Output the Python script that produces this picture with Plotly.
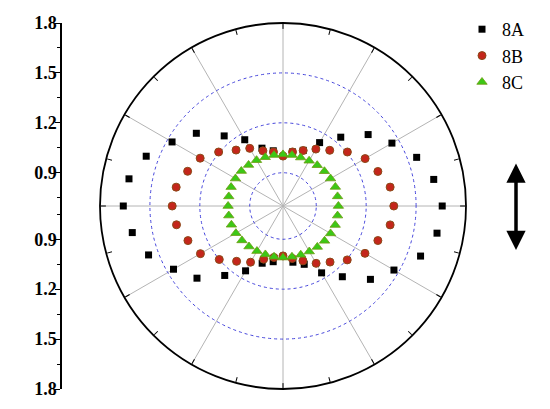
import plotly.graph_objects as go

# angles in degrees, 10 deg steps
angles = list(range(0, 360, 10))
angles_8a = [a for a in angles if a not in (90, 270)]

# 8A (black squares), r values
r_8a = [1.657, 1.62, 1.555, 1.456, 1.368, 1.24, 1.14, 1.056, 1.03,
        1.037, 1.07, 1.16, 1.25, 1.38, 1.47, 1.575, 1.64,
        1.66, 1.62, 1.56, 1.46, 1.375, 1.245, 1.15, 1.066, 1.04,
        1.043, 1.073, 1.164, 1.255, 1.386, 1.47, 1.58, 1.64]

# 8B (red circles)
r_8b = [1.366, 1.354, 1.307, 1.27, 1.205, 1.137, 1.095, 1.055, 1.03,
        1.0, 1.03, 1.053, 1.10, 1.139, 1.205, 1.275, 1.31, 1.352,
        1.366, 1.35, 1.308, 1.273, 1.20, 1.134, 1.09, 1.04, 1.014,
        1.0, 1.02, 1.051, 1.098, 1.14, 1.204, 1.269, 1.307, 1.354]

# 8C (green triangles)
r_8c = [1.033, 1.033, 1.035, 1.03, 1.025, 1.02, 1.014, 1.01, 1.011,
        1.01, 1.011, 1.012, 1.018, 1.022, 1.027, 1.03, 1.032, 1.031,
        1.03, 1.031, 1.03, 1.027, 1.022, 1.018, 1.013, 1.01, 1.01,
        1.01, 1.01, 1.012, 1.016, 1.021, 1.026, 1.03, 1.034, 1.033]

# left scale: value -> offset from the 0.7 centre, mirrored
scale_labels = ["1.8", "1.5", "1.2", "0.9", "0.9", "1.2", "1.5", "1.8"]
scale_vals = [1.8, 1.5, 1.2, 0.9, 0.9, 1.2, 1.5, 1.8]
r_min, r_max = 0.7, 1.8
W, H = 550, 409
OFF = 8  # page body margin, everything is placed 8px up/left to compensate
top, bottom = 23 - OFF, 20 + OFF
plot_h = H - top - bottom

serif = "Liberation Serif, Times New Roman, serif"

fig = go.Figure()

fig.add_trace(go.Scatterpolar(
    r=r_8a, theta=angles_8a, mode="markers", name="8A",
    marker=dict(symbol="square", size=7, color="black"),
    subplot="polar"))
fig.add_trace(go.Scatterpolar(
    r=r_8b, theta=angles, mode="markers", name="8B",
    marker=dict(symbol="circle", size=8, color="#c4261b",
                line=dict(color="#8a4a18", width=1)),
    subplot="polar"))
fig.add_trace(go.Scatterpolar(
    r=r_8c, theta=angles, mode="markers", name="8C",
    marker=dict(symbol="triangle-up", size=9, color="#3cc816",
                line=dict(color="#6e9a12", width=0.8)),
    subplot="polar"))

# empty trace so the overlay polar (outer circle + 15 deg ticks) is drawn
fig.add_trace(go.Scatterpolar(r=[None], theta=[None], subplot="polar2",
                              showlegend=False, hoverinfo="skip"))

# empty trace for the left cartesian scale
fig.add_trace(go.Scatter(x=[None], y=[None], showlegend=False,
                         hoverinfo="skip", xaxis="x", yaxis="y"))

dom_x = [(100 - OFF) / W, (466 - OFF) / W]

fig.update_layout(
    width=W, height=H,
    margin=dict(l=0, r=0, t=top, b=bottom, autoexpand=False),
    paper_bgcolor="white", plot_bgcolor="rgba(0,0,0,0)",
    font=dict(family=serif, size=16, color="black"),
    polar=dict(
        domain=dict(x=dom_x, y=[0, 1]),
        bgcolor="rgba(0,0,0,0)",
        radialaxis=dict(range=[r_min, r_max], tickvals=[0.9, 1.2, 1.5],
                        showticklabels=False, ticks="", showline=False,
                        gridcolor="#4646dc", griddash="dot", gridwidth=1),
        angularaxis=dict(dtick=30, showticklabels=False, ticks="",
                         showline=False, gridcolor="#b4b4b4", gridwidth=1,
                         direction="counterclockwise", rotation=0),
    ),
    polar2=dict(
        domain=dict(x=dom_x, y=[0, 1]),
        bgcolor="rgba(0,0,0,0)",
        radialaxis=dict(range=[r_min, r_max], visible=False),
        angularaxis=dict(dtick=15, showticklabels=False, ticks="inside",
                         ticklen=5, tickwidth=1.2, tickcolor="black",
                         showgrid=False, showline=True, linecolor="black",
                         linewidth=1.8, direction="counterclockwise",
                         rotation=0),
    ),
    xaxis=dict(domain=[(62 - OFF) / W, (70 - OFF) / W], visible=False,
               range=[0, 1]),
    yaxis=dict(
        range=[-(r_max - r_min), r_max - r_min],
        tickvals=[(v - r_min) * (1 if i < 4 else -1)
                  for i, v in enumerate(scale_vals)],
        ticktext=scale_labels,
        tickfont=dict(family=serif, size=18, color="black", weight="bold"),
        ticks="outside", ticklen=5, tickwidth=1.2, tickcolor="black",
        ticklabelstandoff=-5,
        showline=True, linecolor="black", linewidth=1.5,
        showgrid=False, zeroline=False,
        minor=dict(tickvals=[0.95, 0.65, 0.35, 0.05,
                             -0.05, -0.35, -0.65, -0.95],
                   ticks="outside", ticklen=3, tickcolor="black",
                   showgrid=False),
    ),
    legend=dict(x=(462 - OFF) / W, y=(H - bottom - (11 - OFF)) / plot_h,
                xanchor="left", yanchor="top",
                entrywidth=30, entrywidthmode="pixels",
                font=dict(family=serif, size=18, color="black"),
                bgcolor="rgba(0,0,0,0)", tracegroupgap=0),
    showlegend=True,
)

# double-headed arrow on the right
fig.add_annotation(
    x=(516 - OFF) / W, y=(H - bottom - (250 - OFF)) / plot_h,
    xref="paper", yref="paper", ax=0, ay=-88,
    text="", showarrow=True, arrowhead=2, arrowsize=1.1,
    arrowwidth=3.5, arrowcolor="black", arrowside="end+start")

fig.write_html("out.html")
